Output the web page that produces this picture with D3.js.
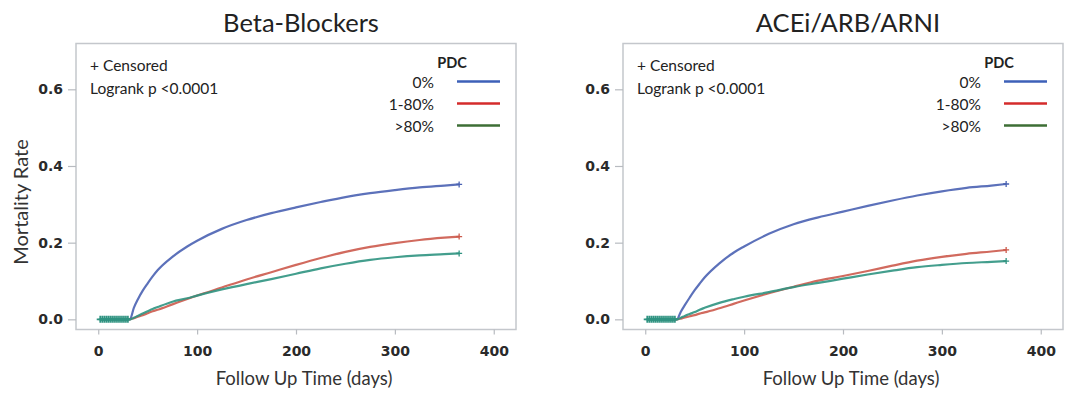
<!DOCTYPE html>
<html>
<head>
<meta charset="utf-8">
<script src="https://cdn.jsdelivr.net/npm/d3@7"></script>
<style>
  html, body { margin: 0; padding: 0; background: #fff; }
  svg { display: block; }
</style>
</head>
<body>
<svg id="chart" width="1068" height="394"></svg>
<script>
// ---------- DATA ----------
const panelTitles = ["Beta-Blockers", "ACEi/ARB/ARNI"];
const seriesNames = ["0%", "1-80%", ">80%"];
const timeDays = [2, 32, 36, 40, 45, 50, 55, 60, 75, 90, 100, 125, 150, 175, 200, 225, 250, 275, 300, 325, 350, 365];

const bbPdc0   = [0, 0, 0.030, 0.052, 0.075, 0.094, 0.112, 0.128, 0.163, 0.190, 0.205, 0.236, 0.259, 0.277, 0.292, 0.306, 0.319, 0.329, 0.337, 0.344, 0.349, 0.352];
const bbPdc180 = [0, 0, 0.003, 0.007, 0.011, 0.016, 0.021, 0.025, 0.039, 0.053, 0.062, 0.083, 0.104, 0.123, 0.142, 0.160, 0.176, 0.189, 0.199, 0.207, 0.213, 0.216];
const bbPdc80  = [0, 0, 0.004, 0.009, 0.015, 0.021, 0.027, 0.032, 0.046, 0.055, 0.062, 0.078, 0.092, 0.105, 0.119, 0.133, 0.145, 0.155, 0.162, 0.167, 0.170, 0.172];

const acPdc0   = [0, 0, 0.020, 0.037, 0.057, 0.076, 0.093, 0.109, 0.146, 0.175, 0.190, 0.223, 0.248, 0.266, 0.281, 0.296, 0.310, 0.323, 0.334, 0.343, 0.349, 0.353];
const acPdc180 = [0, 0, 0.002, 0.005, 0.008, 0.011, 0.015, 0.018, 0.029, 0.041, 0.049, 0.068, 0.085, 0.101, 0.113, 0.126, 0.140, 0.153, 0.163, 0.171, 0.177, 0.181];
const acPdc80  = [0, 0, 0.004, 0.009, 0.014, 0.019, 0.025, 0.030, 0.043, 0.053, 0.059, 0.071, 0.084, 0.095, 0.106, 0.117, 0.127, 0.136, 0.142, 0.147, 0.150, 0.152];

const censorDays = [2, 4, 6, 8, 10, 12, 14, 16, 18, 20, 22, 24, 26, 28, 30];
const xTicks = [0, 100, 200, 300, 400];
const yTicks = [0, 0.2, 0.4, 0.6];
const annotationLines = ["+ Censored", "Logrank p <0.0001"];
const legendTitle = "PDC";
const xAxisTitle = "Follow Up Time (days)";
const yAxisTitle = "Mortality Rate";

// ---------- STYLE / LAYOUT ----------
const lineColors = ["#4a62b2", "#cc5a4c", "#2f9381"];
const legendColors = ["#3d60b8", "#d42b2b", "#3d6e35"];
const panels = [
  { x0: 76, x1: 516, title: panelTitles[0], data: [bbPdc0, bbPdc180, bbPdc80], yLabel: true },
  { x0: 623, x1: 1063, title: panelTitles[1], data: [acPdc0, acPdc180, acPdc80], yLabel: false }
];
const yTop = 43.5, yBot = 329.5;

const svg = d3.select("#chart");
svg.append("rect").attr("width", 1068).attr("height", 394).attr("fill", "#fff");

panels.forEach(p => {
  const x = d3.scaleLinear().domain([-22.5, 422.5]).range([p.x0, p.x1]);
  const y = d3.scaleLinear().domain([-0.0265, 0.7195]).range([yBot, yTop]);
  const g = svg.append("g");

  // frame
  g.append("rect")
    .attr("x", p.x0).attr("y", yTop)
    .attr("width", p.x1 - p.x0).attr("height", yBot - yTop)
    .attr("fill", "none").attr("stroke", "#c4c7cc").attr("stroke-width", 1.5);

  // axes
  const yAx = g.append("g").attr("transform", `translate(${p.x0},0)`)
    .call(d3.axisLeft(y).tickValues(yTicks).tickFormat(d3.format(".1f")).tickSize(8).tickPadding(5));
  const xAx = g.append("g").attr("transform", `translate(0,${yBot})`)
    .call(d3.axisBottom(x).tickValues(xTicks).tickSize(5).tickPadding(12));
  [yAx, xAx].forEach(ax => {
    ax.select(".domain").remove();
    ax.selectAll(".tick line").attr("stroke", "#b8bbc0").attr("stroke-width", 1.2);
    ax.selectAll(".tick text")
      .attr("font-family", "DejaVu Sans").attr("font-weight", "bold")
      .attr("font-size", 14).attr("fill", "#2a2a2a");
  });

  // title
  g.append("text").attr("x", (p.x0 + p.x1) / 2 + 5).attr("y", 32)
    .attr("text-anchor", "middle").attr("font-family", "Lato").attr("font-size", 25.5)
    .attr("fill", "#222").text(p.title);

  // x-axis title
  g.append("text").attr("x", (p.x0 + p.x1) / 2 + 8).attr("y", 385)
    .attr("text-anchor", "middle").attr("font-family", "Lato").attr("font-size", 18.5)
    .attr("fill", "#333").text(xAxisTitle);

  if (p.yLabel) {
    g.append("text").attr("transform", "translate(28,202) rotate(-90)")
      .attr("text-anchor", "middle").attr("font-family", "Lato").attr("font-size", 20)
      .attr("fill", "#333").text(yAxisTitle);
  }

  // annotation
  annotationLines.forEach((t, i) => {
    g.append("text").attr("x", p.x0 + 14).attr("y", 65 + i * 22.5)
      .attr("dominant-baseline", "central")
      .attr("font-family", "Lato").attr("font-size", 15.5).attr("fill", "#222").text(t);
  });

  // legend
  g.append("text").attr("x", p.x1 - 64).attr("y", 62)
    .attr("text-anchor", "middle").attr("dominant-baseline", "central")
    .attr("font-family", "Lato").attr("font-weight", "bold").attr("font-size", 14.5)
    .attr("fill", "#222").text(legendTitle);
  seriesNames.forEach((s, i) => {
    const ly = 81.5 + i * 22;
    g.append("text").attr("x", p.x1 - 82).attr("y", ly)
      .attr("text-anchor", "end").attr("dominant-baseline", "central")
      .attr("font-family", "Lato").attr("font-size", 15.5).attr("fill", "#222").text(s);
    g.append("line").attr("x1", p.x1 - 59).attr("x2", p.x1 - 16)
      .attr("y1", ly).attr("y2", ly)
      .attr("stroke", legendColors[i]).attr("stroke-width", 2.5);
  });

  // curves
  const line = d3.line().x(d => x(d[0])).y(d => y(d[1])).curve(d3.curveMonotoneX);
  p.data.forEach((vals, i) => {
    const pts = timeDays.map((t, k) => [t, vals[k]]);
    g.append("path").datum(pts).attr("d", line)
      .attr("fill", "none").attr("stroke", lineColors[i]).attr("stroke-width", 2.2)
      .attr("stroke-opacity", 0.9);
    const last = pts[pts.length - 1];
    g.append("path").attr("d", "M-3,0H3M0,-3V3")
      .attr("transform", `translate(${x(last[0])},${y(last[1])})`)
      .attr("stroke", lineColors[i]).attr("stroke-width", 1.3).attr("fill", "none");
  });

  // censored marks at start
  censorDays.forEach(d => {
    g.append("path").attr("d", "M-3.5,0H3.5M0,-3.5V3.5")
      .attr("transform", `translate(${x(d)},${y(0)})`)
      .attr("stroke", lineColors[2]).attr("stroke-width", 1.7).attr("fill", "none");
  });
});
</script>
</body>
</html>
